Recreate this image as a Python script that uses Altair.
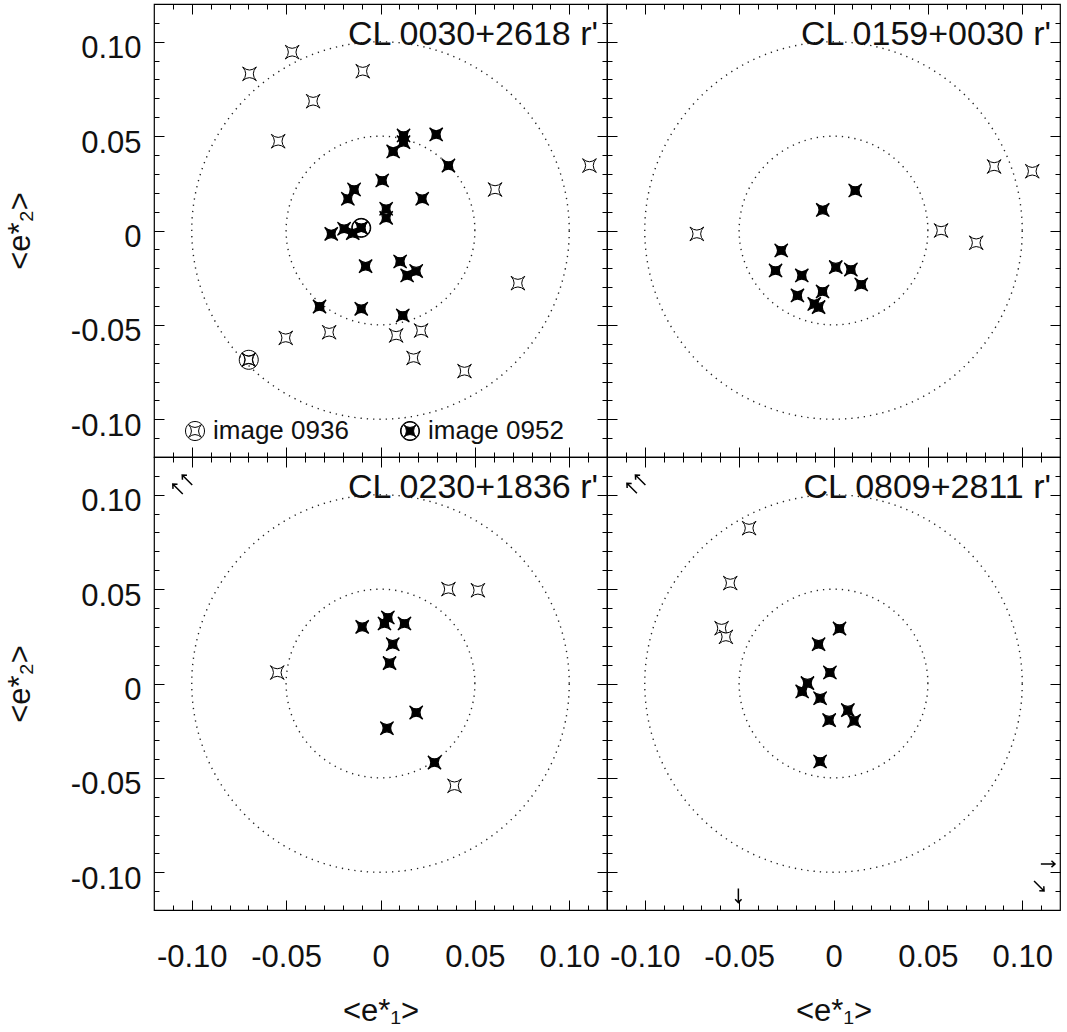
import altair as alt
import pandas as pd
import numpy as np

# ------------------------------------------------------------------ data
panel_names = ["CL 0030+2618 r'", "CL 0159+0030 r'", "CL 0230+1836 r'", "CL 0809+2811 r'"]

# CL 0030+2618
p1_open_e1 = [-0.0468, -0.0694, -0.0094, -0.0357, -0.0542, 0.1107, 0.0607, 0.0728,
              -0.0502, -0.0272, 0.0083, 0.0215, 0.0175, 0.0445, -0.0698]
p1_open_e2 = [0.0945, 0.0830, 0.0844, 0.0685, 0.0473, 0.0344, 0.0217, -0.0279,
              -0.0569, -0.0539, -0.0556, -0.0530, -0.0675, -0.0745, -0.0685]
p1_fill_e1 = [0.0122, 0.0122, 0.0295, 0.0067, 0.0360, 0.0009, -0.0140, -0.0173, 0.0221,
              0.0030, 0.0030, -0.0261, -0.0193, -0.0147, -0.0102, -0.0079, 0.0104,
              0.0189, 0.0141, -0.0323, -0.0102, 0.0118]
p1_fill_e2 = [0.0503, 0.0468, 0.0509, 0.0419, 0.0344, 0.0265, 0.0217, 0.0168, 0.0168,
              0.0115, 0.0067, -0.0018, 0.0009, -0.0014, 0.0014, -0.0189, -0.0164,
              -0.0215, -0.0238, -0.0403, -0.0415, -0.0450]
p1_mark_image = ["image 0936", "image 0952"]
p1_mark_e1 = [-0.0698, -0.0102]
p1_mark_e2 = [-0.0685, 0.0014]

# CL 0159+0030
p2_open_e1 = [-0.0724, 0.0851, 0.1053, 0.0570, 0.0756]
p2_open_e2 = [-0.0018, 0.0339, 0.0314, 0.0000, -0.0065]
p2_fill_e1 = [0.0115, -0.0057, -0.0277, -0.0307, -0.0168, 0.0012, 0.0092, 0.0147,
              -0.0058, -0.0191, -0.0102, -0.0079]
p2_fill_e2 = [0.0212, 0.0109, -0.0106, -0.0212, -0.0238, -0.0194, -0.0207, -0.0286,
              -0.0323, -0.0344, -0.0389, -0.0406]

# CL 0230+1836
p3_open_e1 = [-0.0547, 0.0360, 0.0516, 0.0392]
p3_open_e2 = [0.0058, 0.0500, 0.0494, -0.0542]
p3_fill_e1 = [-0.0097, 0.0021, 0.0039, 0.0127, 0.0065, 0.0048, 0.0189, 0.0034, 0.0286]
p3_fill_e2 = [0.0300, 0.0318, 0.0350, 0.0318, 0.0208, 0.0108, -0.0154, -0.0237, -0.0419]
p3_arrow_e1 = [-0.1074, -0.1024]
p3_arrow_e2 = [0.1030, 0.1078]
p3_arrow_angle = [315, 315]

# CL 0809+2811
p4_open_e1 = [-0.0447, -0.0547, -0.0593, -0.0570]
p4_open_e2 = [0.0823, 0.0532, 0.0293, 0.0247]
p4_fill_e1 = [0.0032, -0.0079, -0.0019, -0.0138, -0.0166, -0.0071, 0.0076, -0.0023,
              0.0109, -0.0071]
p4_fill_e2 = [0.0291, 0.0208, 0.0058, 0.0002, -0.0042, -0.0078, -0.0141, -0.0194,
              -0.0198, -0.0413]
p4_arrow_e1 = [-0.1068, -0.1023, 0.1136, 0.1089, -0.0504]
p4_arrow_e2 = [0.1034, 0.1078, -0.0956, -0.1073, -0.1124]
p4_arrow_angle = [315, 315, 90, 135, 180]

circle_names = ["inner", "outer"]
circle_radii = [0.05, 0.10]

axis_major = [-0.10, -0.05, 0.0, 0.05, 0.10]
axis_minor = [round(-0.11 + 0.01 * i, 2) for i in range(23)]

# ------------------------------------------------------------------ style
FONT = "Liberation Sans"
INK = "#111111"
W = H = 453
DOM = [-0.12, 0.12]
STAR = "M-1,-1Q0,-0.1,1,-1Q0.1,0,1,1Q0,0.1,-1,1Q-0.1,0,-1,-1Z"
ARROW = "M0,1L0,-1M-0.45,-0.5L0,-1L0.45,-0.5"
S = 0.68
C = round(S * 0.1, 3)
STAR_SMALL = (f"M{-S},{-S}Q0,{-C},{S},{-S}Q{C},0,{S},{S}"
              f"Q0,{C},{-S},{S}Q{-C},0,{-S},{-S}Z")
CIRC_OPEN = "M1,0A1,1,0,1,1,-1,0A1,1,0,1,1,1,0Z" + STAR_SMALL
CIRC_FILLED = ("M1,0A1,1,0,1,1,-1,0A1,1,0,1,1,1,0Z"
               "M0.94,0A0.94,0.94,0,1,0,-0.94,0A0.94,0.94,0,1,0,0.94,0Z" + STAR_SMALL)
LABEL_EXPR = ("datum.value == 0 ? '0' : (datum.value < 0 ? '-' : '') + "
              "format(abs(datum.value), '.2f')")

# circle outlines (geometry from the radii)
deg = np.arange(0, 362, 2)
circ_rows = []
for nm, r in zip(circle_names, circle_radii):
    for d in deg:
        circ_rows.append({"ring": nm, "deg": float(d),
                          "e1": r * np.cos(np.radians(d)),
                          "e2": r * np.sin(np.radians(d))})
circ_df = pd.DataFrame(circ_rows)


def make_axis(orient, major, labels=False, title=None, label_pad=13, title_pad=20):
    t = 10 if major else 5
    kw = dict(orient=orient, values=axis_major if major else axis_minor,
              tickSize=t, offset=-t, domain=False, grid=False, ticks=True,
              tickColor="black", tickWidth=1, tickOpacity=1, labels=labels, zindex=1)
    if labels:
        kw.update(labelExpr=LABEL_EXPR, labelFont=FONT, labelFontSize=31,
                  labelColor=INK, labelPadding=label_pad, labelOverlap=False,
                  labelFlush=False)
        if orient == "left":
            kw.update(labelOffset=7)
    if title:
        kw.update(title=title, titleFont=FONT, titleFontSize=31,
                  titleFontWeight="normal", titleColor=INK, titlePadding=title_pad)
    else:
        kw["title"] = None
    return alt.Axis(**kw)


def X(ax):
    return alt.X("e1:Q", scale=alt.Scale(domain=DOM, nice=False, zero=False), axis=ax)


def Y(ax):
    return alt.Y("e2:Q", scale=alt.Scale(domain=DOM, nice=False, zero=False), axis=ax)


def panel(name, open_e1, open_e2, fill_e1, fill_e2, show_x, show_y,
          arrows=None, marks=None):
    xb = make_axis("bottom", True, labels=show_x,
                   title="<e*\u2081>" if show_x else None, label_pad=32, title_pad=24)
    yl = make_axis("left", True, labels=show_y,
                   title="<e*\u2082>" if show_y else None, label_pad=13, title_pad=34)
    dots = dict(color="#222222", strokeWidth=1.4, strokeDash=[1.3, 5])
    inner = alt.Chart(circ_df).transform_filter(alt.datum.ring == "inner").mark_line(
        **dots).encode(x=X(xb), y=Y(yl), order="deg:Q")
    outer = alt.Chart(circ_df).transform_filter(alt.datum.ring == "outer").mark_line(
        **dots).encode(x=X(make_axis("top", True)), y=Y(make_axis("right", True)),
                       order="deg:Q")
    open_df = pd.DataFrame({"e1": open_e1, "e2": open_e2})
    fill_df = pd.DataFrame({"e1": fill_e1, "e2": fill_e2})
    opens = alt.Chart(open_df).mark_point(
        shape=STAR, size=190, filled=True, fill="white", stroke="black",
        strokeWidth=1, opacity=1
    ).encode(x=X(make_axis("bottom", False)), y=Y(make_axis("left", False)))
    fills = alt.Chart(fill_df).mark_point(
        shape=STAR, size=175, filled=True, fill="black", stroke="black",
        strokeWidth=1.2, opacity=1
    ).encode(x=X(make_axis("top", False)), y=Y(make_axis("right", False)))
    label = alt.Chart(pd.DataFrame({"name": [name]})).mark_text(
        align="right", baseline="alphabetic", font=FONT, fontSize=34, color=INK
    ).encode(text="name:N", x=alt.value(W - 9), y=alt.value(41))
    layers = [inner, outer, opens, fills, label]
    if arrows is not None:
        a_df = pd.DataFrame({"e1": arrows[0], "e2": arrows[1], "angle": arrows[2]})
        layers.append(alt.Chart(a_df).mark_point(
            shape=ARROW, size=200, filled=False, stroke="black", strokeWidth=1.5,
            opacity=1
        ).encode(x=X(None), y=Y(None), angle=alt.Angle("angle:Q", scale=None)))
    if marks is not None:
        m_df = pd.DataFrame({"image": marks[0], "e1": marks[1], "e2": marks[2]})
        leg = alt.Legend(title=None, orient="none", legendX=28, legendY=414,
                         direction="horizontal", columns=2, padding=0,
                         labelFont=FONT, labelFontSize=26, labelColor=INK,
                         labelOffset=5, columnPadding=48, symbolSize=361,
                         symbolStrokeColor="black", symbolStrokeWidth=1)
        layers.append(alt.Chart(m_df).mark_point(
            size=361, filled=True, stroke="black", strokeWidth=1, opacity=1
        ).encode(
            x=X(None), y=Y(None),
            shape=alt.Shape("image:N", scale=alt.Scale(domain=p1_mark_image,
                                                        range=[CIRC_OPEN, CIRC_FILLED]),
                            legend=leg),
            fill=alt.Fill("image:N", scale=alt.Scale(domain=p1_mark_image,
                                                      range=["transparent", "black"]),
                          legend=leg),
            stroke=alt.Stroke("image:N", scale=alt.Scale(domain=p1_mark_image,
                                                          range=["black", "black"]),
                              legend=leg),
        ))
    return alt.layer(*layers).resolve_axis(x="independent", y="independent").properties(
        width=W, height=H)


p1 = panel(panel_names[0], p1_open_e1, p1_open_e2, p1_fill_e1, p1_fill_e2, False, True,
           marks=(p1_mark_image, p1_mark_e1, p1_mark_e2))
p2 = panel(panel_names[1], p2_open_e1, p2_open_e2, p2_fill_e1, p2_fill_e2, False, False)
p3 = panel(panel_names[2], p3_open_e1, p3_open_e2, p3_fill_e1, p3_fill_e2, True, True,
           arrows=(p3_arrow_e1, p3_arrow_e2, p3_arrow_angle))
p4 = panel(panel_names[3], p4_open_e1, p4_open_e2, p4_fill_e1, p4_fill_e2, True, False,
           arrows=(p4_arrow_e1, p4_arrow_e2, p4_arrow_angle))

chart = alt.concat(p1, p2, p3, p4, columns=2, spacing=0, bounds="flush").resolve_scale(
    fill="independent", shape="independent", stroke="independent"
).properties(
    padding={"left": 3, "top": 2, "right": 0, "bottom": 0}, background="white"
).configure_view(stroke="black", strokeWidth=1.2)

chart.save("out.html", embed_options={"renderer": "svg", "actions": False})
